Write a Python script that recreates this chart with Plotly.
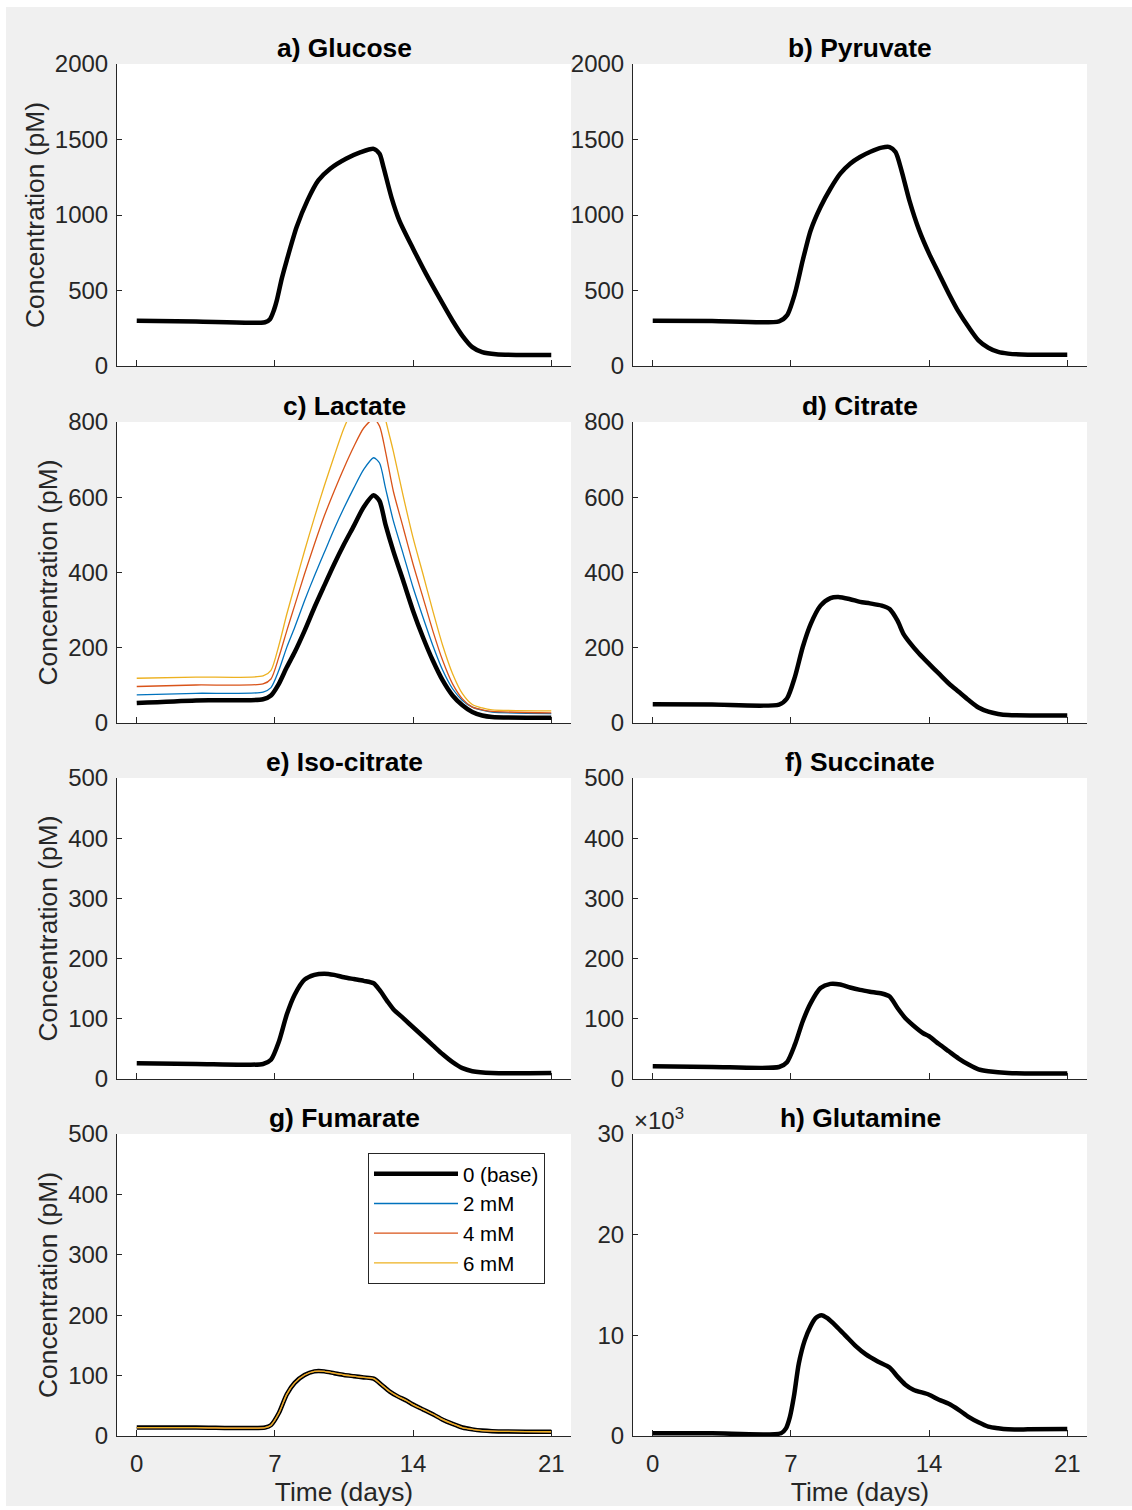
import plotly.graph_objects as go

# ---------------- data ----------------
glc_days = [0, 3, 6.5, 6.75, 6.95, 7.1, 7.35, 7.6, 8.1, 8.65, 9.2, 9.8, 10.6, 11.35, 12.0, 12.3, 12.5, 12.9, 13.3, 14, 14.65, 15.4, 16.0, 16.5, 17.0, 17.5, 18.2, 21]
glc_base = [300, 295, 290, 310, 370, 436, 580, 700, 920, 1097, 1229, 1306, 1372, 1416, 1438, 1405, 1317, 1119, 965, 777, 612, 436, 300, 200, 125, 92, 78, 73]

pyr_days = [0, 3, 6.4, 6.8, 7.2, 7.6, 8.0, 8.5, 9.0, 9.5, 10.0, 10.5, 11.0, 11.6, 12.0, 12.3, 12.6, 13.0, 13.5, 14.0, 14.5, 15.0, 15.5, 16.0, 16.5, 17.0, 17.5, 18.0, 19.0, 21]
pyr_base = [300, 298, 296, 335, 479, 700, 898, 1053, 1174, 1274, 1340, 1384, 1417, 1446, 1450, 1417, 1296, 1097, 898, 744, 611, 479, 358, 258, 170, 121, 93, 82, 75, 75]

lac_days = [0, 3, 6.4, 6.8, 7.2, 7.6, 8.0, 8.5, 9.0, 9.5, 10.0, 10.5, 11.0, 11.5, 12.0, 12.3, 12.6, 13.0, 13.5, 14.0, 14.5, 15.0, 15.5, 16.0, 16.5, 17.0, 17.5, 18.0, 21]
lac_base = [53, 60, 63, 73, 104, 148, 188, 245, 307, 365, 422, 475, 524, 574, 605, 590, 528, 457, 378, 298, 228, 166, 113, 73, 47, 29, 20, 16, 14]
lac_2mM = [75, 79, 82, 94, 140, 201, 254, 325, 391, 453, 515, 572, 625, 674, 705, 691, 625, 537, 449, 360, 281, 206, 140, 91, 60, 42, 34, 29, 25]
lac_4mM = [97, 101, 104, 117, 175, 245, 312, 396, 475, 550, 616, 678, 735, 784, 808, 789, 722, 616, 519, 422, 334, 245, 166, 104, 64, 42, 35, 31, 27]
lac_6mM = [119, 122, 125, 140, 206, 289, 364, 457, 546, 630, 709, 784, 840, 885, 910, 890, 808, 722, 603, 492, 396, 298, 206, 131, 78, 49, 40, 35, 32]

cit_days = [0, 3, 6.4, 6.8, 7.2, 7.6, 8.0, 8.5, 9.0, 9.4, 10.0, 10.5, 11.0, 11.6, 12.0, 12.4, 12.7, 13.0, 13.5, 14.0, 14.5, 15.0, 15.5, 16.0, 16.5, 17.0, 17.5, 18.0, 21]
cit_base = [50, 49, 49, 65, 122, 202, 263, 312, 332, 335, 329, 322, 318, 312, 303, 272, 237, 215, 184, 157, 131, 105, 83, 61, 41, 30, 24, 21, 20]

iso_days = [0, 3, 6.4, 6.8, 7.2, 7.6, 8.0, 8.5, 9.0, 9.5, 10.0, 10.5, 11.0, 11.5, 12.0, 12.3, 12.7, 13.0, 13.5, 14.0, 14.5, 15.0, 15.5, 16.0, 16.5, 17.0, 18.0, 21]
iso_base = [26, 25, 25, 32, 62, 107, 140, 165, 173, 175, 173, 169, 166, 163, 159, 148, 129, 116, 101, 86, 71, 56, 41, 28, 18, 13, 10, 10]

suc_days = [0, 3, 6.4, 6.8, 7.2, 7.6, 8.0, 8.5, 9.0, 9.5, 10.0, 10.5, 11.0, 11.6, 12.0, 12.4, 12.8, 13.2, 13.7, 14.0, 14.5, 15.0, 15.5, 16.0, 16.5, 17.0, 18.0, 21]
suc_base = [21, 20, 20, 28, 57, 96, 126, 151, 158, 157, 152, 148, 145, 142, 137, 118, 101, 89, 76, 71, 58, 46, 34, 24, 16, 13, 10, 9]

fum_days = [0, 3, 6.5, 6.8, 7.2, 7.6, 8.0, 8.5, 9.0, 9.5, 10.0, 10.5, 11.0, 11.5, 12.0, 12.4, 12.8, 13.2, 13.7, 14.0, 14.5, 15.0, 15.5, 16.0, 16.5, 17.0, 17.5, 18.0, 21]
fum_base = [14, 14, 14, 18, 38, 69, 88, 101, 107, 107, 104, 101, 99, 97, 95, 85, 74, 66, 58, 52, 44, 36, 27, 20, 14, 11, 9, 8, 7]
fum_2mM = fum_base
fum_4mM = fum_base
fum_6mM = fum_base

gln_days = [0, 3, 6.5, 6.75, 6.95, 7.15, 7.4, 7.7, 8.0, 8.25, 8.55, 8.85, 9.3, 9.8, 10.3, 10.8, 11.4, 12.0, 12.4, 12.8, 13.2, 14.0, 14.5, 15.0, 15.5, 16.0, 16.5, 17.0, 17.5, 18.0, 19.0, 21]
gln_base = [265, 265, 270, 760, 1900, 3900, 7200, 9500, 10900, 11700, 12000, 11700, 10900, 9900, 8900, 8100, 7400, 6800, 5900, 5100, 4600, 4100, 3600, 3200, 2600, 1900, 1360, 930, 760, 660, 660, 700]

series_names = ["0 (base)", "2 mM", "4 mM", "6 mM"]
series_colors = ["#000000", "#0072BD", "#D95319", "#EDB120"]
series_widths = [4.5, 1.3, 1.3, 1.3]

titles = ["a) Glucose", "b) Pyruvate", "c) Lactate", "d) Citrate",
          "e) Iso-citrate", "f) Succinate", "g) Fumarate", "h) Glutamine"]
x_ticks = [0, 7, 14, 21]
x_range = [-1, 22]
y_ranges = [[0, 2000], [0, 2000], [0, 800], [0, 800], [0, 500], [0, 500], [0, 500], [0, 30000]]
y_dticks = [500, 500, 200, 200, 100, 100, 100, 10000]
gln_tickvals = [0, 10000, 20000, 30000]
gln_ticktext = ["0", "10", "20", "30"]

panels = [
    (glc_days, [glc_base]),
    (pyr_days, [pyr_base]),
    (lac_days, [lac_base, lac_2mM, lac_4mM, lac_6mM]),
    (cit_days, [cit_base]),
    (iso_days, [iso_base]),
    (suc_days, [suc_base]),
    (fum_days, [fum_base, fum_2mM, fum_4mM, fum_6mM]),
    (gln_days, [gln_base]),
]

# ---------------- layout geometry (pixels) ----------------
W, H = 1132, 1510
col_px = [(117, 571), (633, 1087)]
row_px = [(64, 366), (422, 723), (778, 1079), (1134, 1436)]

FONT = "Liberation Sans, Arial, Helvetica, sans-serif"
AX_COL = "#262626"

def white_strip(x0, x1, y0, y1):
    return dict(type="rect", xref="paper", yref="paper", layer="above",
                x0=x0 / W, x1=x1 / W, y0=1 - y1 / H, y1=1 - y0 / H,
                fillcolor="white", line=dict(width=0))

fig = go.Figure()
layout = dict(
    width=W, height=H, template="none",
    margin=dict(l=0, r=0, t=0, b=0),
    paper_bgcolor="#f0f0f0", plot_bgcolor="white",
    font=dict(family=FONT, size=24, color=AX_COL),
    showlegend=True,
    legend=dict(x=368 / W, y=1 - 1153 / H, xanchor="left", yanchor="top",
                bgcolor="white", bordercolor=AX_COL, borderwidth=1,
                font=dict(family=FONT, size=20.5, color="#000000"),
                itemwidth=84, tracegroupgap=0),
    shapes=[white_strip(0, W, 0, 7), white_strip(0, 6, 0, H), white_strip(0, W, 1506, H)],
    annotations=[],
)

for i, (days, ys) in enumerate(panels):
    r, c = divmod(i, 2)
    n = i + 1
    xa = "x" if n == 1 else f"x{n}"
    ya = "y" if n == 1 else f"y{n}"
    x0, x1 = col_px[c]
    t0, b0 = row_px[r]
    bottom_row = (r == 3)
    xdict = dict(
        domain=[x0 / W, x1 / W], anchor=ya, range=x_range,
        tickmode="array", tickvals=x_ticks, ticks="inside", ticklen=6,
        tickcolor=AX_COL, tickwidth=1,
        showline=True, linecolor=AX_COL, linewidth=1, mirror=False,
        showgrid=False, zeroline=False, showticklabels=bottom_row,
        tickfont=dict(size=24, color=AX_COL), ticklabelstandoff=6,
    )
    if bottom_row:
        xdict["title"] = dict(text="Time (days)", font=dict(size=26.4, color=AX_COL), standoff=4)
    layout[f"xaxis{'' if n == 1 else n}"] = xdict
    ydict = dict(
        domain=[1 - b0 / H, 1 - t0 / H], anchor=xa, range=y_ranges[i],
        ticks="inside", ticklen=5, tickcolor=AX_COL, tickwidth=1,
        showline=True, linecolor=AX_COL, linewidth=1, mirror=False,
        showgrid=False, zeroline=False,
        tickfont=dict(size=24, color=AX_COL), ticklabelstandoff=3,
    )
    if c == 0:
        ydict["title"] = dict(text="Concentration (pM)", font=dict(size=26.4, color=AX_COL), standoff=2)
    if n == 8:
        ydict.update(tickmode="array", tickvals=gln_tickvals, ticktext=gln_ticktext)
    else:
        ydict.update(tickmode="linear", tick0=0, dtick=y_dticks[i])
    layout[f"yaxis{'' if n == 1 else n}"] = ydict

    for k, yv in enumerate(ys):
        fig.add_trace(go.Scatter(
            x=days, y=yv, mode="lines", xaxis=xa, yaxis=ya,
            name=series_names[k], legendgroup=series_names[k],
            showlegend=(n == 7),
            line=dict(color=series_colors[k], width=series_widths[k],
                      shape="spline", smoothing=0.7),
            hoverinfo="skip",
        ))

    layout["annotations"].append(dict(
        text=f"<b>{titles[i]}</b>", xref="paper", yref="paper",
        x=(x0 + x1) / 2 / W, y=1 - t0 / H, xanchor="center", yanchor="bottom",
        yshift=-1, showarrow=False, font=dict(family=FONT, size=26.4, color="#000000"),
    ))

layout["annotations"].append(dict(
    text="×10<sup>3</sup>", xref="paper", yref="paper",
    x=632 / W, y=1 - 1134 / H, xanchor="left", yanchor="bottom", yshift=-2,
    showarrow=False, font=dict(family=FONT, size=24, color=AX_COL),
))

fig.update_layout(**layout)
fig.write_html("out.html", config={"displayModeBar": False},
               post_script="document.body.style.margin='0';document.body.style.overflow='hidden';")
